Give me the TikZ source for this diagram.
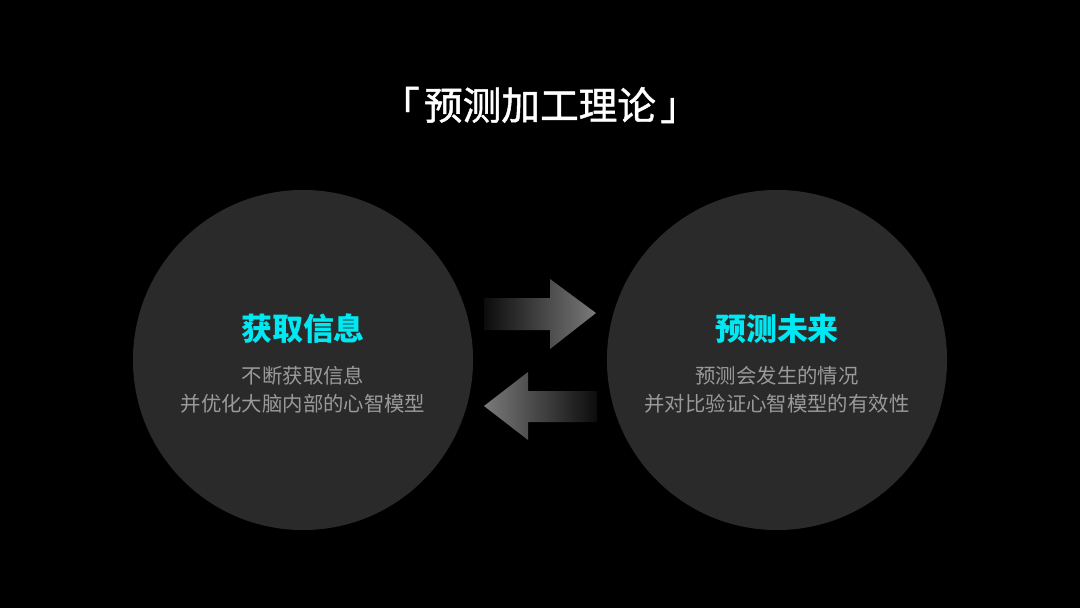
\documentclass[tikz,border=0pt]{standalone}
\usepackage{fontspec}
\usepackage{tikz}
\usetikzlibrary{positioning}
\newfontfamily\cjk{Noto Sans CJK SC}
\newfontfamily\cjktitle{Noto Sans CJK SC}[FakeBold=1.2]
\definecolor{bgblack}{HTML}{000000}
\definecolor{discgray}{HTML}{2A2A2A}
\definecolor{headcyan}{HTML}{00E8F2}
\definecolor{bodygray}{HTML}{9A9A9A}
\definecolor{arrowgray}{HTML}{7A7A7A}
\definecolor{arrowdark}{HTML}{0C0C0C}

\begin{document}
\begin{tikzpicture}[x=0.025cm,y=-0.025cm,
  disc/.style={circle,fill=discgray,minimum size=8.5cm,inner sep=0pt},
  headtext/.style={font=\cjk\bfseries\fontsize{22}{26}\selectfont,text=headcyan},
  bodytext/.style={font=\cjk\fontsize{14.5}{20}\selectfont,text=bodygray,align=center}]
  \fill[bgblack] (0,0) rectangle (1080,608);
  \useasboundingbox (0,0) rectangle (1080,608);
  % title
  \node[font=\cjktitle\fontsize{27.5}{32}\selectfont,text=white] (title) at (540,105)
    {「\hspace{3pt}预测加工理论\hspace{3pt}」};
  % two discs
  \node[disc] (getinfo) at (303,360) {};
  \node[disc] (predict) at (777,360) {};
  \node[headtext] (gethead) at (303,329) {获取信息};
  \node[bodytext] (getbody) at (303,390) {不断获取信息\\并优化大脑内部的心智模型};
  \node[headtext] (predhead) at (777,329) {预测未来};
  \node[bodytext] (predbody) at (777,390) {预测会发生的情况\\并对比验证心智模型的有效性};
  % block arrows
  \shade[left color=arrowdark,right color=arrowgray]
    (484,298) -- (550,298) -- (550,279) -- (596,313) -- (550,349) -- (550,330) -- (484,330) -- cycle;
  \shade[left color=arrowgray,right color=arrowdark]
    (484,406) -- (528,372) -- (528,391) -- (597,391) -- (597,422) -- (528,422) -- (528,440) -- cycle;
\end{tikzpicture}
\end{document}
